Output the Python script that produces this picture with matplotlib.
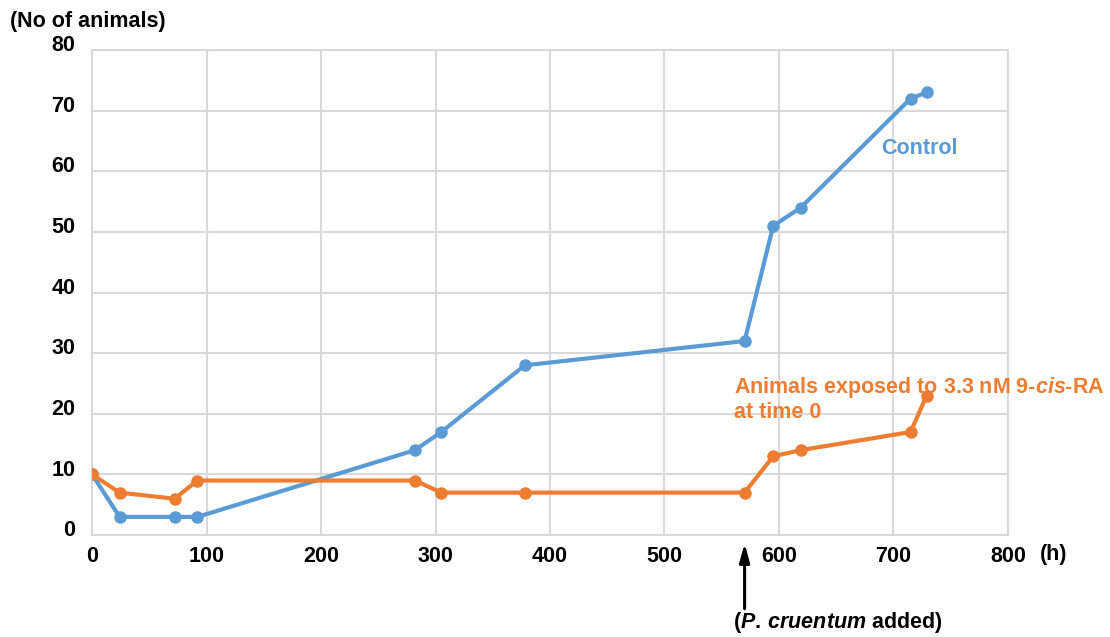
import matplotlib.pyplot as plt
import matplotlib.transforms as mtransforms

# 経過時間 (h)
hours = [0, 24, 72, 92, 282, 305, 378, 570, 595, 619, 715, 729]
# 個体数
control = [10, 3, 3, 3, 14, 17, 28, 32, 51, 54, 72, 73]
exposed = [10, 7, 6, 9, 9, 7, 7, 7, 13, 14, 17, 23]

x_ticks = [0, 100, 200, 300, 400, 500, 600, 700, 800]
y_ticks = [0, 10, 20, 30, 40, 50, 60, 70, 80]

blue = '#5B9BD5'
orange = '#ED7D31'
grid_color = '#D9D9D9'

plt.rcParams['font.family'] = ['Liberation Sans', 'DejaVu Sans']
plt.rcParams['mathtext.fontset'] = 'custom'
plt.rcParams['mathtext.it'] = 'Liberation Sans:bold:italic'
plt.rcParams['mathtext.rm'] = 'Liberation Sans:bold'

fs = 15.5

fig = plt.figure(figsize=(11.1, 6.37), dpi=100)
ax = fig.add_axes([0.083, 0.160, 0.825, 0.7615])

ax.plot(hours, control, color=blue, lw=3, marker='o', ms=8, zorder=3)
ax.plot(hours, exposed, color=orange, lw=3, marker='o', ms=8, zorder=3)

ax.set_xlim(0, 800)
ax.set_ylim(0, 80)
ax.set_xticks(x_ticks)
ax.set_yticks(y_ticks)
ax.tick_params(length=0, labelsize=fs, pad=8)
ax.tick_params(axis='y', pad=12)
for lab in ax.get_xticklabels() + ax.get_yticklabels():
    lab.set_fontweight('bold')
# 目盛ラベルを少し上にずらす
shift = mtransforms.ScaledTranslation(0, 5 / 72, fig.dpi_scale_trans)
for lab in ax.get_yticklabels():
    lab.set_transform(lab.get_transform() + shift)

ax.grid(True, color=grid_color, lw=1.5, zorder=0)
for s in ax.spines.values():
    s.set_color(grid_color)
    s.set_linewidth(1.5)

# 軸の単位
fig.text(0.009, 0.966, '(No of animals)', fontsize=fs, fontweight='bold', va='center')
ax.annotate('(h)', xy=(1.0, 0), xycoords='axes fraction', xytext=(32, -19),
            textcoords='offset pixels', fontsize=fs, fontweight='bold', va='center')

# 系列ラベル
ax.text(689, 62.8, 'Control', color=blue, fontsize=fs, fontweight='bold')
ax.text(561, 19.3, 'Animals exposed to 3.3 nM 9-$\\mathit{cis}$-RA\nat time 0',
        color=orange, fontsize=fs, fontweight='bold', linespacing=1.15)

# 捕食者投入のタイミング
ax.annotate('', xy=(570, -0.9), xytext=(570, -12.6),
            arrowprops=dict(arrowstyle='-|>,head_width=0.3,head_length=1.1',
                            color='black', lw=2.2), annotation_clip=False)
ax.text(560, -14.4, '($\\mathit{P.\\,cruentum}$ added)', fontsize=fs,
        fontweight='bold', va='center', ha='left')

fig.savefig('out.png', dpi=100)
